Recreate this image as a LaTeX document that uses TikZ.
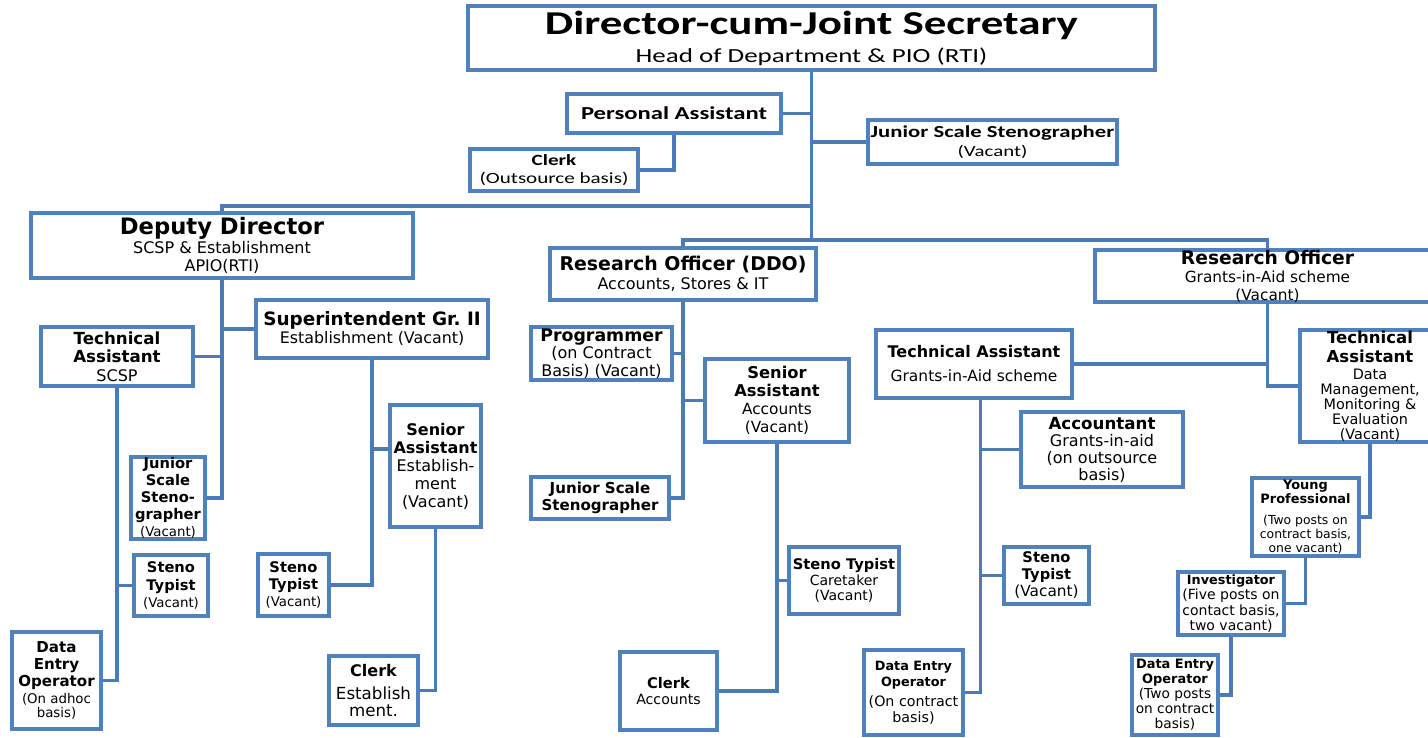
\documentclass[tikz,border=0pt]{standalone}
\usepackage{fontspec}
\setmainfont{DejaVu Sans}
\newfontfamily\calib{Carlito}
\newcommand\fsz[2]{\fontsize{#1}{#2}\selectfont}
\newcommand\wide[1]{\scalebox{1.35}[1]{#1}}
\usetikzlibrary{backgrounds}
\definecolor{boxblue}{HTML}{4F81BD}
\definecolor{linkblue}{HTML}{4A7BB7}
\tikzset{
  box/.style={draw=boxblue, line width=3pt, fill=white, inner sep=0pt, align=center},
  wh/.style 2 args={minimum width=#1*0.75pt, minimum height=#2*0.75pt},
  link/.style={draw=linkblue, line width=2.6pt},
}

\begin{document}
\begin{tikzpicture}[x=0.75pt,y=-0.75pt]
\useasboundingbox (0,0) rectangle (1428,738);

% ---- top level (wide Carlito lettering) ----
\node[box, wh={687}{64}, font=\calib\fsz{15}{20}] (djs) at (811.5,38)
  {\wide{\bfseries\fsz{25}{28}Director-cum-Joint Secretary}\\[1pt]\wide{Head of Department \& PIO (RTI)}};
\node[box, wh={214}{39}, font=\calib\bfseries\fsz{13.7}{16}] (pa) at (674,113.5) {\wide{Personal Assistant}};
\node[box, wh={168}{42}, font=\calib\fsz{11.7}{14}] (clk) at (554,170)
  {\wide{\bfseries Clerk}\\\wide{(Outsource basis)}};
\node[box, wh={249}{44}, font=\calib\fsz{11.6}{14.5}] (jst) at (992.5,142)
  {\wide{\bfseries\fsz{12.6}{15}Junior Scale Stenographer}\\\wide{(Vacant)}};
\coordinate (jDD) at (811.5,206);
\coordinate (jRO) at (811.5,240);

% ---- Deputy Director branch ----
\node[box, wh={382}{65}, font=\fsz{12}{14}] (dd) at (222,245.5)
  {{\bfseries\fsz{17}{19}Deputy Director}\\SCSP \& Establishment\\APIO(RTI)};
\node[box, wh={152}{59}, font=\fsz{12}{14}] (tas) at (117,356.5)
  {{\bfseries\fsz{12.5}{14}Technical}\\{\bfseries\fsz{12.5}{14}Assistant}\\SCSP};
\node[box, wh={232}{58}, font=\fsz{11.9}{13.5}] (sup) at (372,329)
  {{\bfseries\fsz{13.8}{15}Superintendent Gr.~II}\\Establishment (Vacant)};
\node[box, wh={74}{82}, font=\bfseries\fsz{11}{12.75}] (jsl) at (168,498)
  {Junior\\Scale\\Steno-\\grapher\\{\mdseries\fsz{10}{12}(Vacant)}};
\node[box, wh={74}{61}, font=\bfseries\fsz{11}{13}] (stl) at (171,585.5)
  {Steno\\Typist\\{\mdseries\fsz{10}{12}(Vacant)}};
\node[box, wh={89}{97}, font=\bfseries\fsz{11.3}{12.75}] (deol) at (56.5,680.5)
  {Data\\Entry\\Operator\\{\mdseries\fsz{10}{11}(On adhoc}\\[-2pt]{\mdseries\fsz{10}{11}basis)}};
\node[box, wh={91}{122}, font=\fsz{12}{13.5}] (sae) at (435.5,466)
  {{\bfseries Senior}\\{\bfseries Assistant}\\Establish-\\ment\\(Vacant)};
\node[box, wh={71}{62}, font=\bfseries\fsz{11}{12.75}] (stm) at (293.5,585)
  {Steno\\Typist\\{\mdseries\fsz{10}{12}(Vacant)}};
\node[box, wh={89}{69}, font=\fsz{12.5}{13}] (cle) at (373.5,690.5)
  {{\bfseries\fsz{12}{13}Clerk}\\[4pt]Establish\\ment.};

% ---- Research Officer (DDO) branch ----
\node[box, wh={266}{52}, font=\fsz{12}{14}] (rod) at (683,274)
  {{\bfseries\fsz{14.2}{16}Research Officer (DDO)}\\Accounts, Stores \& IT};
\node[box, wh={141}{53}, font=\fsz{12}{13}] (prg) at (601.5,353.5)
  {{\bfseries\fsz{13}{14}Programmer}\\(on Contract\\Basis) (Vacant)};
\node[box, wh={144}{83}, font=\fsz{11.5}{13.5}] (saa) at (777,400.5)
  {{\bfseries\fsz{12.2}{14}Senior}\\{\bfseries\fsz{12.2}{14}Assistant}\\Accounts\\(Vacant)};
\node[box, wh={138}{42}, font=\bfseries\fsz{11.3}{12.75}] (jsm) at (600,498)
  {Junior Scale\\Stenographer};
\node[box, wh={110}{67}, font=\fsz{10.5}{11.5}] (stc) at (844,580.5)
  {{\bfseries\fsz{11}{12}Steno Typist}\\Caretaker\\(Vacant)};
\node[box, wh={97}{78}, font=\fsz{10.6}{11.5}] (cla) at (668.5,691)
  {{\bfseries\fsz{11}{12}Clerk}\\Accounts};

% ---- Research Officer (Grants-in-Aid) branch ----
\node[box, wh={345}{52}, font=\fsz{11.5}{13.5}] (rog) at (1267.5,276)
  {{\bfseries\fsz{14}{15}Research Officer}\\Grants-in-Aid scheme\\(Vacant)};
\node[box, wh={196}{68}, font=\fsz{11.6}{13}] (tag) at (974,364)
  {{\bfseries\fsz{12}{13}Technical Assistant}\\[5pt]Grants-in-Aid scheme};
\node[box, wh={140}{112}, font=\fsz{10.8}{11.25}] (tad) at (1370,386)
  {{\bfseries\fsz{12.4}{14}Technical}\\[3pt]{\bfseries\fsz{12.4}{14}Assistant}\\[2pt]Data\\Management,\\Monitoring \&\\Evaluation\\(Vacant)};
\node[box, wh={162}{75}, font=\fsz{12}{12.75}] (acc) at (1102,449.5)
  {{\bfseries\fsz{12.5}{13}Accountant}\\Grants-in-aid\\(on outsource\\basis)};
\node[box, wh={85}{57}, font=\bfseries\fsz{11}{12.75}] (str) at (1046.5,575.5)
  {Steno\\Typist\\{\mdseries\fsz{11.5}{12}(Vacant)}};
\node[box, wh={99}{85}, font=\fsz{10.7}{12}] (deom) at (913.5,692.5)
  {{\bfseries\fsz{9.6}{11}Data Entry}\\{\bfseries\fsz{9.6}{11}Operator}\\[3pt](On contract\\basis)};
\node[box, wh={107}{78}, font=\fsz{9.3}{10.5}] (yp) at (1305.5,517)
  {{\bfseries\fsz{9.7}{11}Young}\\{\bfseries\fsz{9.7}{11}Professional}\\[5pt](Two posts on\\contract basis,\\one vacant)};
\node[box, wh={106}{63}, font=\fsz{10.5}{11.5}] (inv) at (1231,603.5)
  {{\bfseries\fsz{9.6}{11}Investigator}\\(Five posts on\\contact basis,\\two vacant)};
\node[box, wh={86}{80}, font=\fsz{10.3}{11.25}] (deor) at (1175,695)
  {{\bfseries\fsz{9.7}{11}Data Entry}\\{\bfseries\fsz{9.7}{11}Operator}\\(Two posts\\on contract\\basis)};

\coordinate (tagT) at ([xshift=5pt]tag.south);

% ---- connectors ----
\begin{pgfonlayer}{background}
  \draw[link] (djs.south) -- (jRO);
  \draw[link] (pa.east) -- (pa.east -| djs.south);
  \draw[link] (pa.south) |- (clk.east);
  \draw[link] (jst.west) -- (jst.west -| djs.south);
  \draw[link] (dd.north) |- (jDD);
  \draw[link] (rod.north) |- (jRO) -| (rog.north);

  \draw[link] (dd.south) |- (jsl.east);
  \draw[link] (tas.east) -- (tas.east -| dd.south);
  \draw[link] (sup.west) -- (sup.west -| dd.south);
  \draw[link] (tas.south) |- (deol.east);
  \draw[link] (stl.west) -- (stl.west -| tas.south);
  \draw[link] (sup.south) |- (stm.east);
  \draw[link] ([yshift=12.75pt]sae.west) -- ([yshift=12.75pt]sae.west -| sup.south);
  \draw[link] (sae.south) |- (cle.east);

  \draw[link] (rod.south) |- (jsm.east);
  \draw[link] (prg.east) -- (prg.east -| rod.south);
  \draw[link] (saa.west) -- (saa.west -| rod.south);
  \draw[link] (saa.south) |- (cla.east);
  \draw[link] (stc.west) -- (stc.west -| saa.south);

  \draw[link] (rog.south) |- (tad.west);
  \draw[link] (tag.east) -- (tag.east -| rog.south);
  \draw[link] (tagT) |- (deom.east);
  \draw[link] (acc.west) -- (acc.west -| tagT);
  \draw[link] (str.west) -- (str.west -| tagT);
  \draw[link] (tad.south) |- (yp.east);
  \draw[link] (yp.south) |- (inv.east);
  \draw[link] (inv.south) |- (deor.east);
\end{pgfonlayer}
\end{tikzpicture}
\end{document}
